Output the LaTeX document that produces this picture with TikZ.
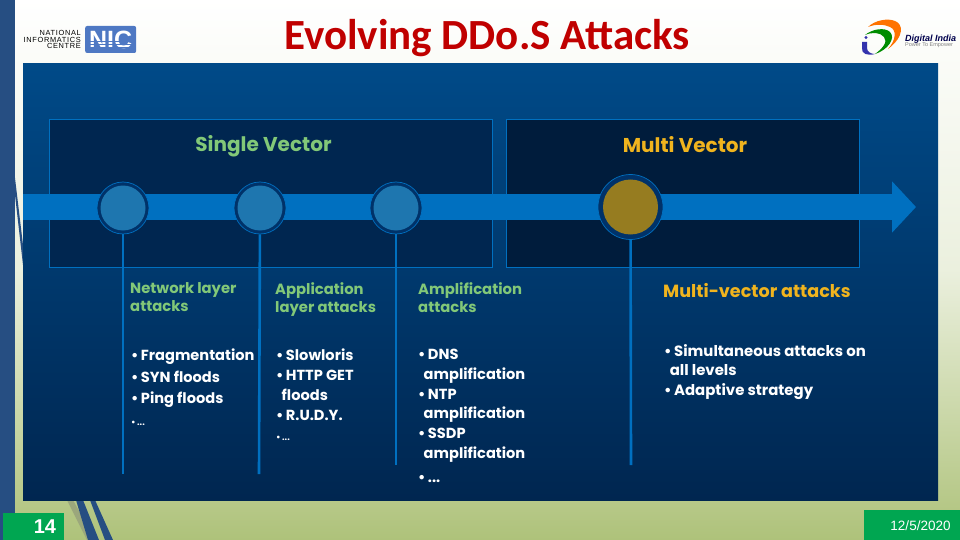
\documentclass[tikz,border=0pt]{standalone}
\usepackage{fontspec}
\usepackage{xcolor}
\setmainfont{Carlito}
\newfontfamily\gothicfont{Poppins}
\newfontfamily\arialfont{Liberation Sans}
\newfontfamily\spacedfont[LetterSpace=9]{Liberation Sans}
\usetikzlibrary{arrows.meta, positioning, calc}
\definecolor{panelTop}{RGB}{0,74,136}
\definecolor{panelBot}{RGB}{0,38,80}
\definecolor{lineBlue}{RGB}{0,112,192}
\definecolor{barBlue}{RGB}{38,78,130}
\definecolor{slideGreen}{RGB}{174,194,122}
\definecolor{tabGreen}{RGB}{0,166,81}
\definecolor{headGreen}{RGB}{130,200,120}
\definecolor{headGold}{RGB}{240,180,30}
\definecolor{coreGold}{RGB}{150,124,32}
\definecolor{coreBlue}{RGB}{30,118,175}
\definecolor{ringBlue}{RGB}{0,50,105}
\definecolor{nicBlue}{RGB}{78,120,195}
\tikzset{
    vectorbox/.style={draw=lineBlue, line width=1.3pt, anchor=north west, inner sep=0pt},
    stopdot/.style={circle, draw=lineBlue, line width=0.7pt, fill=ringBlue, minimum size=52pt, inner sep=0pt},
    stopcore/.style={circle, fill=coreBlue, minimum size=45pt, inner sep=0pt},
    stem/.style={draw=lineBlue, line width=2.6pt},
    heading/.style={font=\gothicfont\bfseries\fontsize{14.8}{18}\selectfont, text=headGreen, anchor=north west, align=left, inner sep=0pt},
    items/.style={font=\gothicfont\bfseries\fontsize{14.6}{19.8}\selectfont, text=white, anchor=north west, align=left, inner sep=0pt},
    tab/.style={fill=tabGreen, anchor=north west, inner sep=0pt},
}
\begin{document}
\begin{tikzpicture}[x=1pt, y=-1pt]
    \useasboundingbox (0,0) rectangle (960,540);
    % slide background
    \shade[top color=white, bottom color=slideGreen, middle color=white!75!slideGreen] (0,0) rectangle (960,540);
    \fill[barBlue] (0,0) rectangle (15,540);
    \fill[barBlue] (15,178) -- (23,245) -- (23,265) -- (15,195) -- cycle;
    % stripes under the panel
    \fill[slideGreen!60!gray] (67,500) -- (73,500) -- (95,540) -- (87,540) -- cycle;
    \fill[barBlue] (76,500) -- (83,500) -- (99,540) -- (88,540) -- cycle;
    \fill[barBlue] (90,500) -- (95,500) -- (113,540) -- (105,540) -- cycle;

    % panel
    \shade[top color=panelTop, bottom color=panelBot] (23,64) rectangle (938,500);

    % title and logos
    \node (title) at (487,38) {\fontsize{43}{45}\selectfont\bfseries\textcolor[RGB]{192,0,0}{Evolving DDo.S Attacks}};
    \node[font=\spacedfont\fontsize{7.4}{6.9}\selectfont, align=right, inner sep=0pt, anchor=east] (nicname) at (81,39.5) {NATIONAL\\INFORMATICS\\CENTRE};
    \node[fill=nicBlue, rounded corners=2pt, minimum width=51pt, minimum height=27pt, inner sep=0pt, anchor=west, text=white, font=\arialfont\bfseries\fontsize{25}{25}\selectfont] (niclogo) at (85,39.5) {NIC};
    \foreach \ypos in {41,44,47,50} {
        \draw[nicBlue, line width=0.8pt] (88,\ypos) -- (133,\ypos);
    }
    \fill[orange!90!red] (868,27) .. controls (875,20) and (888,18) .. (895,21) .. controls (903,24) and (905,36) .. (888,49) .. controls (896,40) and (897,30) .. (890,27) .. controls (884,24) and (875,24) .. (868,27) -- cycle;
    \fill[green!55!black] (865,35) .. controls (872,29) and (885,27) .. (890,32) .. controls (896,38) and (888,50) .. (875,54) .. controls (883,48) and (888,42) .. (884,37) .. controls (880,32) and (872,32) .. (865,35) -- cycle;
    \fill[blue!60!black!80] (862,42) -- (867,42) -- (867,48) .. controls (867,52) and (871,54) .. (875,54) .. controls (868,56) and (861,54) .. (862,48) -- cycle;
    \fill[blue!60!black!80] (866,37.5) circle (1.6);
    \node[font=\arialfont\itshape\bfseries\fontsize{9}{9}\selectfont, text=blue!30!black, anchor=west, inner sep=0pt] (ditext) at (905,39) {Digital India};
    \node[font=\arialfont\fontsize{5.5}{6}\selectfont, text=gray, anchor=west, inner sep=0pt] (ditag) at (905,45.5) {Power To Empower};

    % the two eras
    \node[vectorbox, fill=panelBot, minimum width=443pt, minimum height=148pt] (single) at (49,119) {};
    \node[vectorbox, fill=panelBot!75!black, minimum width=353pt, minimum height=148pt] (multi) at (506,119) {};
    \node[font=\gothicfont\bfseries\fontsize{20}{22}\selectfont, text=headGreen] (singlehead) at (263.5,146) {Single Vector};
    \node[font=\gothicfont\bfseries\fontsize{20}{22}\selectfont, text=headGold] (multihead) at (685,145) {Multi Vector};

    % timeline
    \coordinate (start) at (23,207);
    \coordinate (end) at (916,207);
    \draw[-{Triangle[length=24pt, width=50pt]}, line width=26pt, lineBlue] (start) -- (end);

    \node[stopdot] (net) at (123,208) {};
    \node[stopdot] (app) at (260,208) {};
    \node[stopdot] (amp) at (396,208) {};
    \node[stopdot, minimum size=65pt] (mv) at (630.5,207) {};

    \coordinate (netend) at (123,474);
    \coordinate (append) at (259,474);
    \coordinate (ampend) at (396,465);
    \coordinate (mvend) at (631,465);
    \draw[stem] (net) -- (netend);
    \draw[stem] (app) -- (append);
    \draw[stem] (amp) -- (ampend);
    \draw[stem] (mv) -- (mvend);
    \node[stopcore] (netcore) at (net) {};
    \node[stopcore] (appcore) at (app) {};
    \node[stopcore] (ampcore) at (amp) {};
    \node[stopcore, fill=coreGold, minimum size=55pt] (mvcore) at (mv) {};

    % columns
    \node[heading] (nethead) at (130,282) {Network layer\\attacks};
    \node[heading] (apphead) at (275,282) {Application\\layer attacks};
    \node[heading] (amphead) at (418,282) {Amplification\\attacks};
    \node[heading, text=headGold, font=\gothicfont\bfseries\fontsize{17.6}{20}\selectfont] (mvhead) at (663,283) {Multi-vector attacks};

    \node[items, font=\gothicfont\bfseries\fontsize{14.6}{21.5}\selectfont] (netitems) at (131,349) {•\,Fragmentation\\•\,SYN floods\\•\,Ping floods\\{\fontsize{9}{9}\selectfont •\,...}};
    \node[items] (appitems) at (276,349) {•\,Slowloris\\•\,HTTP GET\\\ \,floods\\•\,R.U.D.Y.\\{\fontsize{9}{9}\selectfont •\,...}};
    \node[items] (ampitems) at (418,349) {•\,DNS\\\ \,amplification\\•\,NTP\\\ \,amplification\\•\,SSDP\\\ \,amplification\\[4pt]•\,...};
    \node[items, font=\gothicfont\bfseries\fontsize{14.9}{19.8}\selectfont] (mvitems) at (664,344) {•\,Simultaneous attacks on\\\ \,all levels\\•\,Adaptive strategy};

    % footer tabs
    \node[tab, minimum width=61pt, minimum height=27pt] (pagetab) at (3,513) {};
    \node[font=\arialfont\bfseries\fontsize{20}{22}\selectfont, text=white] (pagenum) at (45,527) {14};
    \node[tab, minimum width=96pt, minimum height=30pt] (datetab) at (864,510) {};
    \node[font=\arialfont\fontsize{13.5}{14}\selectfont, text=white] (date) at (920.5,526) {12/5/2020};
\end{tikzpicture}
\end{document}
